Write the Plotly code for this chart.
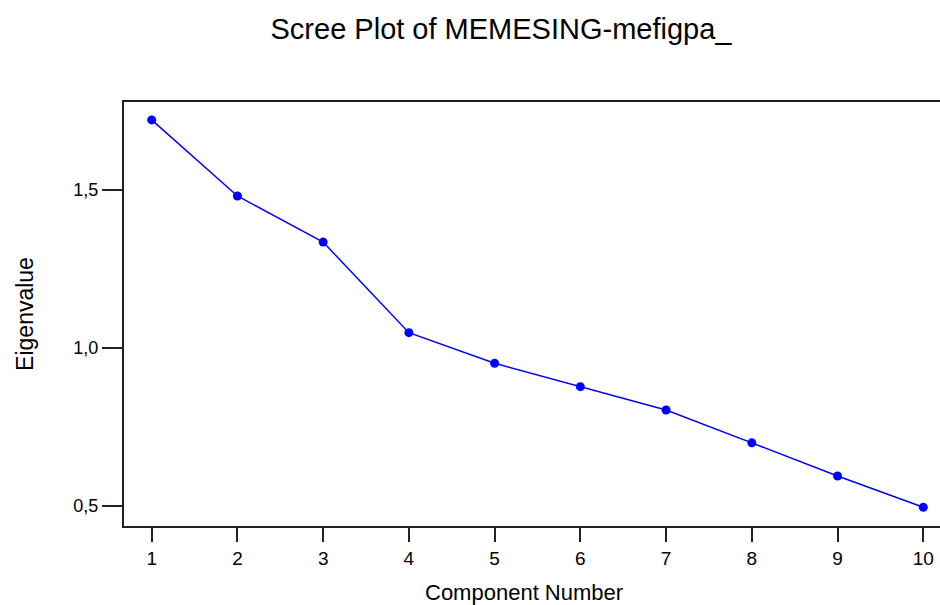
import plotly.graph_objects as go

components = [1, 2, 3, 4, 5, 6, 7, 8, 9, 10]
eigenvalues = [1.722, 1.481, 1.335, 1.048, 0.951, 0.877, 0.803, 0.699, 0.594, 0.495]
x_ticks = [1, 2, 3, 4, 5, 6, 7, 8, 9, 10]
y_tick_vals = [0.5, 1.0, 1.5]
y_tick_text = ["0,5", "1,0", "1,5"]

FONT = "Liberation Sans, Arial, sans-serif"

fig = go.Figure()
fig.add_trace(go.Scatter(
    x=components, y=eigenvalues, mode="lines+markers",
    line=dict(color="#0000FF", width=1.5),
    marker=dict(color="#0000FF", size=9, symbol="circle"),
    showlegend=False,
))

fig.update_layout(
    width=940, height=605,
    paper_bgcolor="white", plot_bgcolor="white",
    margin=dict(l=124, r=0, t=102, b=79),
    font=dict(family=FONT, color="black"),
    title=dict(text="Scree Plot of MEMESING-mefigpa_", x=0.533, xanchor="center",
               y=1 - 29 / 605, yanchor="middle",
               font=dict(family=FONT, size=29, color="black")),
    xaxis=dict(
        range=[0.677, 10.195], tickvals=x_ticks, ticktext=[str(v) for v in x_ticks],
        showgrid=False, zeroline=False, automargin=False,
        showline=True, linecolor="#222222", linewidth=2, mirror=True,
        ticks="outside", ticklen=14, tickwidth=1.5, tickcolor="#222222",
        tickfont=dict(size=19, family=FONT, color="black"),
    ),
    yaxis=dict(
        range=[0.4357, 1.7787], tickvals=y_tick_vals, ticktext=y_tick_text,
        showgrid=False, zeroline=False, automargin=False,
        showline=True, linecolor="#222222", linewidth=2, mirror=False,
        ticks="outside", ticklen=20, tickwidth=1.5, tickcolor="#222222",
        tickfont=dict(size=18, family=FONT, color="black"),
        title=dict(text="Eigenvalue", font=dict(size=23, family=FONT, color="black"), standoff=33),
    ),
    annotations=[dict(
        text="Component Number", xref="paper", yref="paper",
        x=(524 - 124) / 816, y=-(592 - 526) / 424, xanchor="center", yanchor="middle",
        showarrow=False, font=dict(size=22, family=FONT, color="black"),
    )],
)

fig.write_html(
    "out.html",
    config={"displayModeBar": False},
    post_script="document.body.style.margin='0';document.body.style.padding='0';document.documentElement.style.overflow='hidden';",
)
